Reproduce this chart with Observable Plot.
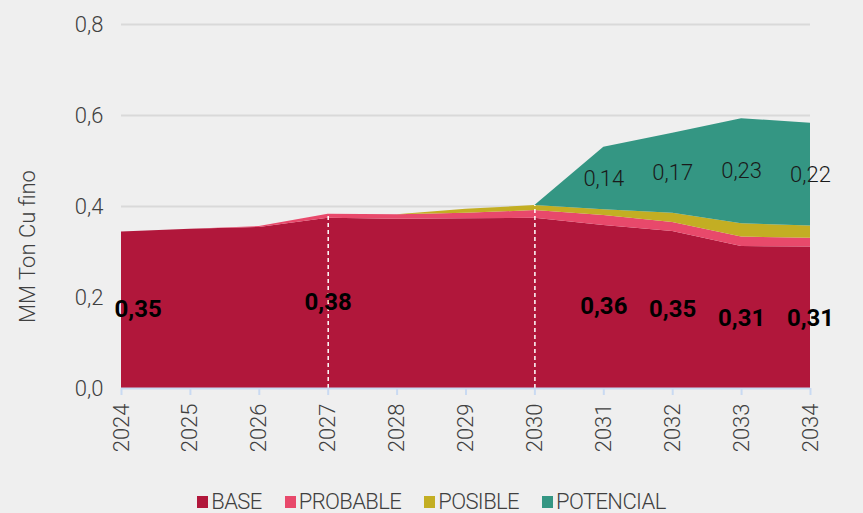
<!DOCTYPE html>
<html>
<head>
<meta charset="utf-8">
<script src="https://cdn.jsdelivr.net/npm/d3@7"></script>
<script src="https://cdn.jsdelivr.net/npm/@observablehq/plot@0.6"></script>
<style>
  html, body { margin: 0; padding: 0; background: #efefef; }
  #chart { width: 863px; }
  .legend { display: flex; justify-content: center; align-items: center; gap: 23px;
    font-family: Roboto, "Liberation Sans Narrow", sans-serif; font-weight: 300; font-size: 22px;
    letter-spacing: -0.6px; color: #404040; height: 22px; line-height: 22px; margin-top: 4px; overflow: visible; }
  .legend span.sw { display: inline-block; width: 11px; height: 12px; margin-right: 3px; }
  .legend .item { display: flex; align-items: center; }
</style>
</head>
<body>
<div id="chart"></div>
<script>
const years = [2024, 2025, 2026, 2027, 2028, 2029, 2030, 2031, 2032, 2033, 2034];
const base      = [0.344, 0.350, 0.354, 0.374, 0.372, 0.373, 0.374, 0.358, 0.345, 0.312, 0.311];
const probable  = [0.000, 0.000, 0.002, 0.009, 0.010, 0.012, 0.017, 0.022, 0.020, 0.021, 0.019];
const posible   = [0.000, 0.000, 0.000, 0.000, 0.000, 0.009, 0.011, 0.013, 0.020, 0.029, 0.027];
const potencial = [0.000, 0.000, 0.000, 0.000, 0.000, 0.000, 0.000, 0.137, 0.176, 0.231, 0.226];
const seriesNames = ["BASE", "PROBABLE", "POSIBLE", "POTENCIAL"];
const seriesColors = ["#b1173b", "#e8496b", "#c3ae23", "#349683"];
const yTicks = [0, 0.2, 0.4, 0.6, 0.8];
const yTitle = "MM Ton Cu fino";
const dashYears = [2027, 2030];
const baseLabelYears = [2024, 2027, 2031, 2032, 2033, 2034];
const baseLabelValues = [0.35, 0.38, 0.36, 0.35, 0.31, 0.31];
const potLabelYears = [2031, 2032, 2033, 2034];
const potLabelValues = [0.14, 0.17, 0.23, 0.22];

const seriesValues = [base, probable, posible, potencial];
const data = seriesNames.flatMap((s, i) => years.map((yr, j) => ({year: yr, series: s, value: seriesValues[i][j]})));
const idx = yr => years.indexOf(yr);
const totalAt = yr => { const j = idx(yr); return base[j] + probable[j] + posible[j] + potencial[j]; };
const fmt = v => v.toFixed(2).replace(".", ",");

const baseLabels = baseLabelYears.map((yr, i) => ({year: yr, value: baseLabelValues[i], text: fmt(baseLabelValues[i])}));
const potLabels = potLabelYears.map((yr, i) => {
  const j = idx(yr);
  const below = base[j] + probable[j] + posible[j];
  return {year: yr, y: below + potencial[j] / 2, text: fmt(potLabelValues[i])};
});
const dashes = dashYears.map(yr => ({year: yr, top: totalAt(yr)}));

const font = 'Roboto, "Liberation Sans Narrow", sans-serif';

const chart = Plot.plot({
  width: 863,
  height: 487,
  marginLeft: 121,
  marginRight: 53,
  marginTop: 24,
  marginBottom: 99,
  style: {background: "#efefef", fontFamily: font, fontSize: "22px", color: "#404040", overflow: "visible"},
  x: {domain: [2024, 2034], label: null},
  y: {domain: [0, 0.8], label: null},
  color: {domain: seriesNames, range: seriesColors},
  marks: [
    Plot.gridY(yTicks.filter(d => d > 0), {stroke: "#d9d9d9", strokeOpacity: 1, strokeWidth: 2}),
    Plot.areaY(data, {x: "year", y: "value", fill: "series", order: seriesNames}),
    Plot.ruleX(dashes, {x: "year", y1: 0, y2: "top", stroke: "white", strokeWidth: 1.5, strokeDasharray: "4,3"}),
    Plot.ruleY([0], {stroke: "#c9daf2", strokeWidth: 2}),
    Plot.axisX({ticks: years, tickFormat: d => String(d), tickRotate: -90, tickSize: 7, tickPadding: 8,
      stroke: "#c9daf2", strokeWidth: 2, fontWeight: 300, fill: "#404040", label: null}),
    Plot.axisY({ticks: yTicks, tickFormat: d => d.toFixed(1).replace(".", ","), tickSize: 0, tickPadding: 18,
      fontWeight: 300, fill: "#404040", label: null}),
    Plot.text([yTitle], {frameAnchor: "left", y: () => 0.312, text: d => d, rotate: -90, dx: -94,
      textAnchor: "middle", lineAnchor: "middle", fontWeight: 300, fontSize: 22, fill: "#404040"}),
    Plot.text(baseLabels.slice(0, 1), {x: "year", y: d => d.value / 2, text: "text", textAnchor: "start", dx: -7,
      fontWeight: "bold", fontSize: 24, fill: "black"}),
    Plot.text(baseLabels.slice(1), {x: "year", y: d => d.value / 2, text: "text",
      fontWeight: "bold", fontSize: 24, fill: "black"}),
    Plot.text(potLabels, {x: "year", y: "y", text: "text", fontWeight: 300, fontSize: 22, fill: "#1a1a1a"})
  ]
});
document.getElementById("chart").appendChild(chart);

const legend = document.createElement("div");
legend.className = "legend";
seriesNames.forEach((s, i) => {
  const item = document.createElement("div");
  item.className = "item";
  const sw = document.createElement("span");
  sw.className = "sw";
  sw.style.background = seriesColors[i];
  item.appendChild(sw);
  item.appendChild(document.createTextNode(s));
  legend.appendChild(item);
});
document.getElementById("chart").appendChild(legend);
</script>
</body>
</html>
